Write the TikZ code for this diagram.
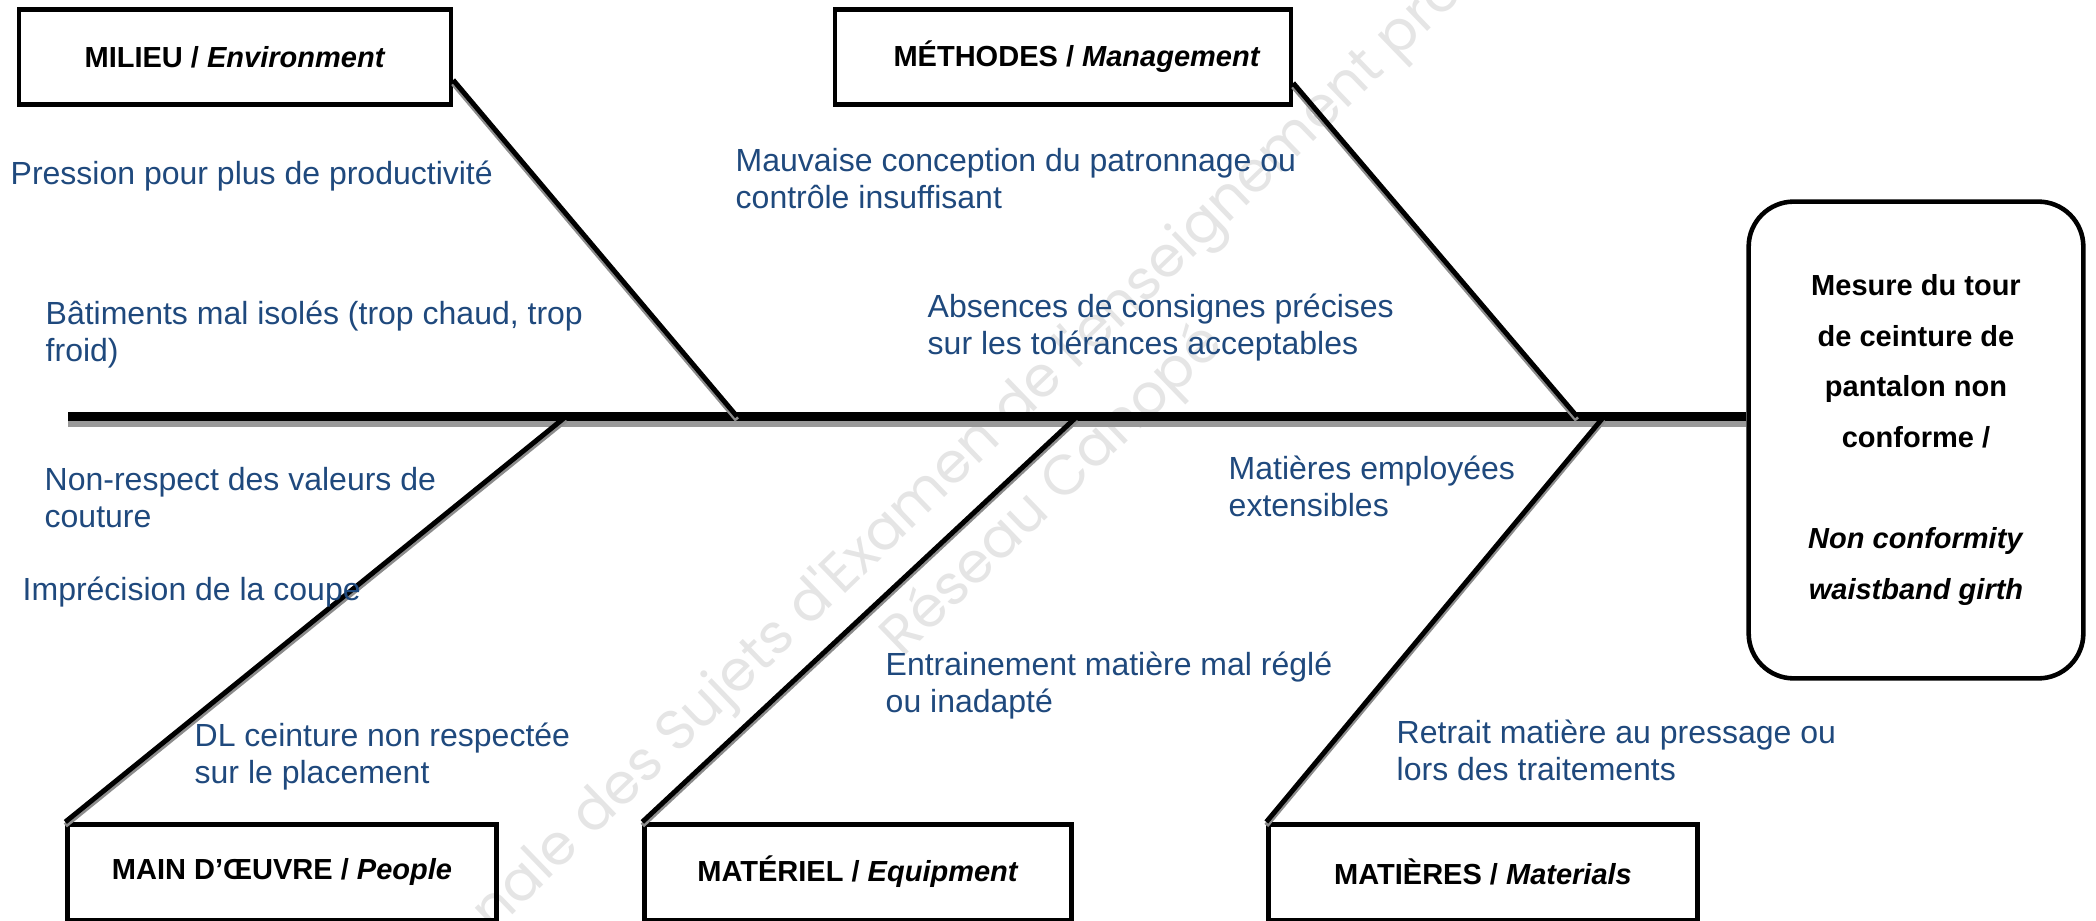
\documentclass[tikz,border=0pt]{standalone}
\usepackage{fontspec}
\setmainfont{Liberation Sans}
\newfontfamily\wmfont{Poppins}
\usetikzlibrary{calc}
\definecolor{causeblue}{HTML}{1F497D}
\begin{document}
\begin{tikzpicture}[x=0.01cm, y=-0.01cm,
    box/.style = {draw, line width=1.3pt, inner sep=0pt, minimum height=0.955cm, font=\bfseries\fontsize{8.25}{10}\selectfont},
    effect/.style = {draw, line width=1.3pt, rounded corners=0.45cm, inner sep=0pt, minimum width=3.345cm, minimum height=4.765cm, align=center, font=\bfseries\fontsize{8.25}{14.4}\selectfont},
    cause/.style = {anchor=base west, align=left, inner sep=0pt, text=causeblue, font=\fontsize{9.1}{10.24}\selectfont},
    bone/.style = {line width=1.4pt, preaction={draw=black!45, line width=1.4pt, transform canvas={yshift=-1pt}}},
    spine/.style = {line width=2.6pt, preaction={draw=black!40, line width=1.7pt, transform canvas={yshift=-2.1pt}}},
    wmark/.style = {anchor=base west, rotate=44, inner sep=0pt, text=black!10, font=\wmfont\fontsize{16}{19}\selectfont}]
\useasboundingbox (0,0) rectangle (2096,921);
\clip (0,0) rectangle (2096,921);

% watermark
\node[wmark] (wm1) at (440,985) {Annale des Sujets d'Examen de l'enseignement professionnel};
\node[wmark] (wm2) at (902,659) {Réseau Canopé};

% categories and effect
\node[box, minimum width=4.315cm] (milieu) at (235,57) {MILIEU / \textit{Environment}};
\node[box, minimum width=4.555cm] (methodes) at (1063,57) {\hspace*{0.28cm}MÉTHODES / \textit{Management}};
\node[box, minimum width=4.285cm] (people) at (282,872) {MAIN D’ŒUVRE / \textit{People}};
\node[box, minimum width=4.265cm] (equip) at (858,872) {MATÉRIEL / \textit{Equipment}};
\node[box, minimum width=4.285cm] (matter) at (1483,872) {MATIÈRES / \textit{Materials}};
\node[effect] (effect) at (1916,440) {Mesure du tour\\de ceinture de\\pantalon non\\conforme /\\[14.4pt]\textit{Non conformity}\\\textit{waistband girth}};

% spine and bones
\coordinate (tail) at (68,416.5);
\coordinate (jenv) at (737,416.5);
\coordinate (jmeth) at (1577,416.5);
\coordinate (jpeople) at (566,416.5);
\coordinate (jequip) at (1077,416.5);
\coordinate (jmatter) at (1604,416.5);
\draw[spine] (tail) -- (tail -| effect.west);
\draw[bone] ($(milieu.east)+(0,23)$) -- (jenv);
\draw[bone] ($(methodes.east)+(0,26)$) -- (jmeth);
\draw[bone] (people.north west) -- (jpeople);
\draw[bone] (equip.north west) -- (jequip);
\draw[bone] (matter.north west) -- (jmatter);

% causes (base = last line)
\node[cause] (c1) at (10,184) {Pression pour plus de productivité};
\node[cause] (c2) at (45,361) {Bâtiments mal isolés (trop chaud, trop\\froid)};
\node[cause] (c3) at (735,208) {Mauvaise conception du patronnage ou\\contrôle insuffisant};
\node[cause] (c4) at (927,354) {Absences de consignes précises\\sur les tolérances acceptables};
\node[cause] (c5) at (44,527) {Non-respect des valeurs de\\couture};
\node[cause] (c6) at (22,600) {Imprécision de la coupe};
\node[cause] (c7) at (194,783) {DL ceinture non respectée\\sur le placement};
\node[cause] (c8) at (885,712) {Entrainement matière mal réglé\\ou inadapté};
\node[cause] (c9) at (1228,516) {Matières employées\\extensibles};
\node[cause] (c10) at (1396,780) {Retrait matière au pressage ou\\lors des traitements};
\end{tikzpicture}
\end{document}
